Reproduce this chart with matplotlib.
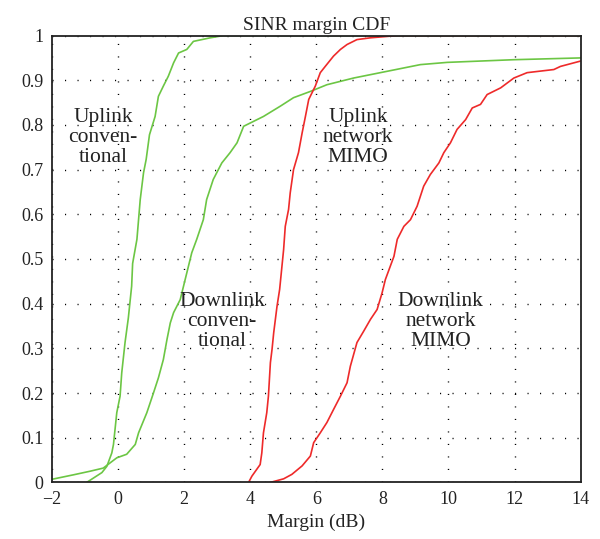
import numpy as np
import matplotlib.pyplot as plt

# points (margin in dB, CDF value)
ul_conv_x = [-0.95, -0.49, -0.34, -0.19, -0.14, -0.04, 0.06, 0.11, 0.21, 0.31, 0.41, 0.44, 0.57,
             0.67, 0.77, 0.85, 0.95, 1.12, 1.22, 1.37, 1.52, 1.68, 1.83, 2.08, 2.28, 2.79, 3.19, 14]
ul_conv_y = [0.0, 0.022, 0.036, 0.066, 0.085, 0.156, 0.193, 0.245, 0.313, 0.368, 0.439, 0.49, 0.544,
             0.633, 0.693, 0.723, 0.778, 0.819, 0.864, 0.887, 0.909, 0.939, 0.961, 0.969, 0.987, 0.995, 1.0, 1.0]

dl_conv_x = [-2.0, -1.35, -0.85, -0.45, -0.04, 0.26, 0.52, 0.62, 0.87, 1.07, 1.22, 1.37, 1.48, 1.58,
             1.68, 1.88, 1.98, 2.08, 2.23, 2.38, 2.58, 2.68, 2.88, 3.14, 3.39, 3.6, 3.8, 4.1, 4.4,
             4.91, 5.31, 5.82, 6.32, 7.13, 8.14, 9.15, 9.96, 11.98, 14.0]
dl_conv_y = [0.007, 0.017, 0.025, 0.032, 0.055, 0.063, 0.085, 0.111, 0.156, 0.2, 0.234, 0.275, 0.32, 0.357,
             0.38, 0.409, 0.439, 0.469, 0.514, 0.544, 0.588, 0.633, 0.678, 0.715, 0.738, 0.76, 0.797, 0.808, 0.819,
             0.842, 0.861, 0.875, 0.89, 0.905, 0.92, 0.935, 0.94, 0.946, 0.95]

ul_mimo_x = [3.95, 4.05, 4.3, 4.35, 4.4, 4.5, 4.55, 4.61, 4.66, 4.71, 4.81, 4.89, 4.96, 5.01, 5.06,
             5.16, 5.21, 5.31, 5.46, 5.57, 5.67, 5.77, 5.97, 6.12, 6.27, 6.52, 6.73, 6.93, 7.23, 7.64, 8.45, 14]
ul_mimo_y = [0.0, 0.014, 0.04, 0.066, 0.111, 0.156, 0.193, 0.268, 0.298, 0.335, 0.394, 0.432, 0.484, 0.521, 0.573,
             0.611, 0.648, 0.7, 0.738, 0.782, 0.819, 0.857, 0.887, 0.917, 0.931, 0.954, 0.969, 0.98, 0.991, 0.995, 1.0, 1.0]

dl_mimo_x = [4.61, 5.01, 5.26, 5.57, 5.82, 5.92, 6.12, 6.32, 6.52, 6.73, 6.93, 7.03, 7.23, 7.43, 7.64,
             7.84, 7.99, 8.09, 8.24, 8.35, 8.45, 8.65, 8.85, 9.05, 9.25, 9.45, 9.71, 9.86, 10.06, 10.26,
             10.52, 10.72, 10.97, 11.17, 11.58, 11.98, 12.38, 13.19, 13.39, 14.0]
dl_mimo_y = [0.0, 0.008, 0.018, 0.037, 0.059, 0.089, 0.111, 0.134, 0.163, 0.193, 0.223, 0.26, 0.313, 0.338, 0.365,
             0.387, 0.424, 0.454, 0.484, 0.506, 0.544, 0.573, 0.588, 0.618, 0.663, 0.689, 0.715, 0.738, 0.76, 0.79,
             0.812, 0.838, 0.846, 0.868, 0.883, 0.905, 0.917, 0.924, 0.931, 0.943]

x_ticks = [-2, 0, 2, 4, 6, 8, 10, 12, 14]
y_ticks = [0, 0.1, 0.2, 0.3, 0.4, 0.5, 0.6, 0.7, 0.8, 0.9, 1]
y_tick_labels = ['0', '0.1', '0.2', '0.3', '0.4', '0.5', '0.6', '0.7', '0.8', '0.9', '1']

plt.rcParams['font.family'] = 'serif'
plt.rcParams['font.serif'] = ['Liberation Serif', 'DejaVu Serif']

green = '#6cc644'
red = '#ee2a2a'

fig = plt.figure(figsize=(6, 5.39), dpi=100)
ax = fig.add_axes([0.0867, 0.105, 0.881, 0.829])

ax.plot(dl_conv_x, dl_conv_y, color=green, lw=1.2)
ax.plot(ul_conv_x, ul_conv_y, color=green, lw=1.2)
ax.plot(ul_mimo_x, ul_mimo_y, color=red, lw=1.2)
ax.plot(dl_mimo_x, dl_mimo_y, color=red, lw=1.2)

ax.set_xlim(-2, 14)
ax.set_ylim(0, 1)
ax.set_xticks(x_ticks)
ax.set_xticklabels([str(t).replace('-', '\u2212') for t in x_ticks])
ax.set_yticks(y_ticks)
ax.set_yticklabels(y_tick_labels)
ax.tick_params(length=0, labelsize=13, pad=6, colors='#222222')
ax.grid(True, color='black', linestyle=(0, (0.8, 8.2)), linewidth=1.0)
for s in ax.spines.values():
    s.set_linewidth(1.3)
    s.set_color('#222222')

ax.set_title('SINR margin CDF', fontsize=14, color='#222222', pad=4)
ax.set_xlabel('Margin (dB)', fontsize=14, color='#222222', labelpad=4)

txt = dict(fontsize=15.5, color='#222222', ha='center', va='center', linespacing=1.05)
ax.text(-0.45, 0.772, 'Uplink\nconven-\ntional', **txt)
ax.text(7.27, 0.772, 'Uplink\nnetwork\nMIMO', **txt)
ax.text(3.15, 0.36, 'Downlink\nconven-\ntional', **txt)
ax.text(9.76, 0.36, 'Downlink\nnetwork\nMIMO', **txt)

fig.savefig('out.png', dpi=100)
